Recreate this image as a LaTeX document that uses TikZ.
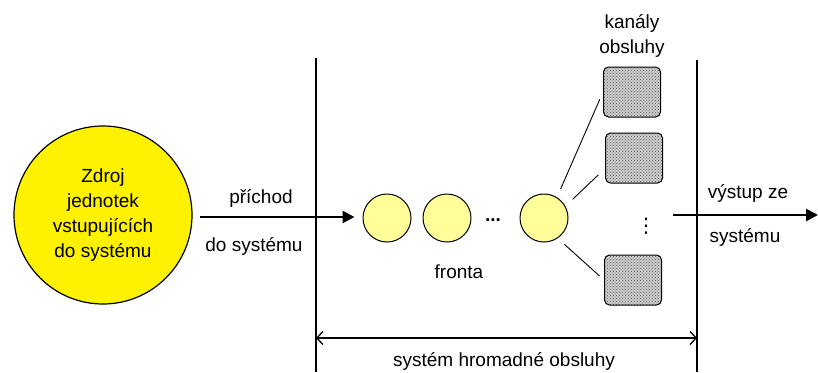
\documentclass[tikz,border=0pt]{standalone}
\usepackage{fontspec}
\setmainfont{Liberation Sans}
\newfontfamily\symfont{DejaVu Sans}
\usetikzlibrary{arrows.meta,patterns}
\definecolor{qyellow}{HTML}{FFFF99}
\begin{document}
\begin{tikzpicture}[x=1pt,y=-1pt, font=\fontsize{19}{23}\selectfont,
  src/.style={circle, draw, line width=1.2pt, fill=yellow, minimum size=178pt, inner sep=0pt, align=center, font=\fontsize{19}{25}\selectfont},
  cust/.style={circle, draw, line width=1pt, fill=qyellow, minimum size=48pt, inner sep=0pt},
  server/.style={rectangle, rounded corners=5pt, draw, line width=1pt, minimum width=57pt, minimum height=50pt, preaction={fill=gray!40}, pattern=crosshatch dots, pattern color=gray!70!black},
  lbl/.style={inner sep=0pt, text height=14pt, text depth=4pt},
  wall/.style={line width=1.6pt},
  flow/.style={line width=2.6pt, -{Triangle[length=12pt,width=12pt]}},
  span/.style={line width=1.3pt, {Straight Barb[length=6pt,width=13pt]}-{Straight Barb[length=6pt,width=13pt]}},
  link/.style={line width=0.9pt}
]
\useasboundingbox (0,0) rectangle (818,372);

% source
\node[src] (src) at (103,215) {Zdroj\\jednotek\\vstupujících\\do systému};

% walls
\coordinate (wLt) at (316,58);
\coordinate (wLb) at (316,372);
\coordinate (wRt) at (697,60);
\coordinate (wRb) at (697,372);
\draw[wall] (wLt) -- (wLb);
\draw[wall] (wRt) -- (wRb);

% queue
\node[cust] (q1) at (387,218) {};
\node[cust] (q2) at (447,218) {};
\node[inner sep=0pt, anchor=base] (qdots) at (493,221) {\textbf{...}};
\node[cust] (qn) at (544,218) {};
\node[lbl] (fronta) at (459,273) {fronta};

% servers
\node[server] (s1) at (632,92) {};
\node[server] (s2) at (634,158) {};
\node[inner sep=0pt, font=\symfont\fontsize{20}{20}\selectfont] (sdots) at (646,226) {⋮};
\node[server] (s3) at (633,280) {};
\node[lbl] (kan) at (632,23) {kanály};
\node[lbl] (obs) at (632,48) {obsluhy};

\draw[link, shorten <=9pt, shorten >=8pt] (qn.58) -- (s1.west);
\draw[link, shorten <=10pt, shorten >=9pt] (qn.29) -- (s2.200);
\draw[link, shorten <=9pt, shorten >=6pt] (qn.-56) -- (s3.west);

% input arrow
\coordinate (inS) at (200,217);
\draw[flow, shorten >=8pt] (inS) -- (inS -| q1.west);
\node[lbl] (pr1) at (261,198) {příchod};
\node[lbl] (pr2) at (254,246) {do systému};

% output arrow
\coordinate (outS) at (673,215);
\coordinate (outE) at (818,215);
\draw[flow] (outS) -- (outE);
\node[lbl] (vy1) at (748,193) {výstup ze};
\node[lbl] (vy2) at (745,237) {systému};

% system span
\coordinate (spL) at (316,338);
\coordinate (spR) at (697,338);
\draw[span] (spL) -- (spR);
\node[lbl] (sys) at (504,361) {systém hromadné obsluhy};
\end{tikzpicture}
\end{document}
